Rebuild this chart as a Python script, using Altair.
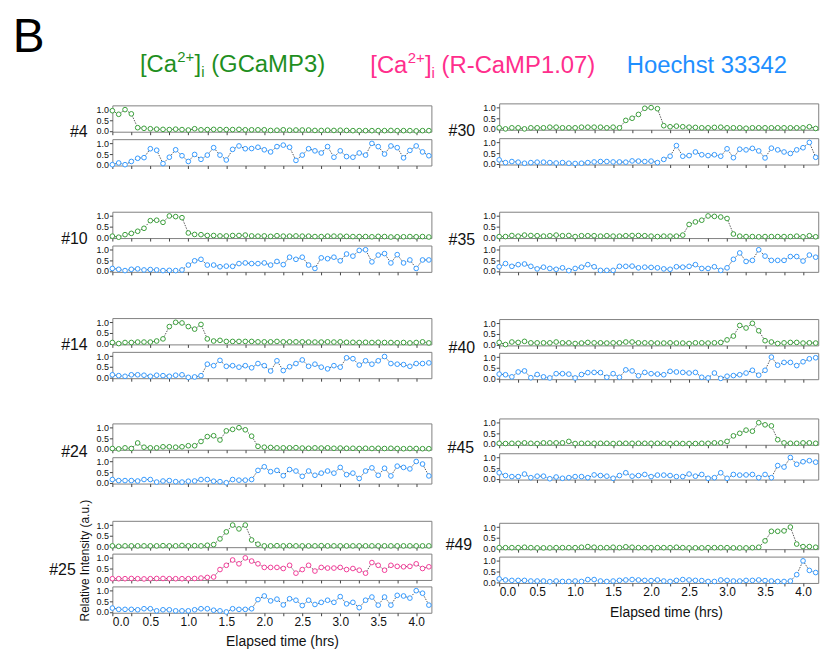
import altair as alt
import pandas as pd

FRAME_MIN = 5  # acquisition interval in minutes

# ---------------- traces (relative intensity, a.u.) ----------------
g4 = [0.95, 0.78, 1.0, 0.8, 0.15, 0.12, 0.1, 0.08, 0.07, 0.06,
      0.08, 0.06, 0.04, 0.1, 0.05, 0.06, 0.07, 0.06, 0.06, 0.06,
      0.07, 0.05, 0.05, 0.05, 0.05, 0.02, 0.03, 0.05, 0.03, 0.04,
      0.04, 0.04, 0.02, 0.02, 0.03, 0.02, 0.03, 0.02, 0.01, 0.01,
      0.01, 0.01, 0.01, 0.01, 0.02, 0.01, 0.01, 0.01, 0.0, 0.01,
      0.01]
b4 = [0.0, 0.08, 0.0, 0.15, 0.3, 0.33, 0.75, 0.68, 0.05, 0.35,
      0.7, 0.42, 0.15, 0.48, 0.25, 0.45, 0.8, 0.45, 0.22, 0.72,
      0.88, 0.75, 0.76, 0.82, 0.7, 0.6, 0.85, 0.92, 0.82, 0.2,
      0.45, 0.75, 0.65, 0.55, 0.85, 0.35, 0.65, 0.38, 0.35, 0.55,
      0.45, 1.0, 0.85, 0.5, 0.88, 0.8, 0.32, 0.67, 0.88, 0.6,
      0.42]
g10 = [0.05, 0.0, 0.12, 0.18, 0.28, 0.42, 0.78, 0.8, 0.7, 1.0,
       0.97, 0.92, 0.2, 0.13, 0.12, 0.08, 0.08, 0.06, 0.06, 0.08,
       0.08, 0.1, 0.06, 0.05, 0.06, 0.04, 0.07, 0.05, 0.05, 0.06,
       0.05, 0.05, 0.03, 0.03, 0.05, 0.05, 0.05, 0.04, 0.03, 0.03,
       0.03, 0.02, 0.04, 0.03, 0.01, 0.02, 0.02, 0.03, 0.02, 0.03,
       0.01]
b10 = [0.12, 0.08, 0.02, 0.08, 0.1, 0.05, 0.07, 0.05, 0.02, 0.03,
       0.02, 0.05, 0.28, 0.48, 0.55, 0.28, 0.28, 0.2, 0.23, 0.22,
       0.35, 0.38, 0.35, 0.35, 0.38, 0.28, 0.45, 0.3, 0.65, 0.55,
       0.65, 0.28, 0.12, 0.62, 0.58, 0.65, 0.48, 0.8, 0.7, 0.97,
       1.0, 0.43, 0.75, 0.82, 0.38, 0.77, 0.38, 0.52, 0.12, 0.52,
       0.52]
g14 = [0.05, 0.0, 0.05, 0.05, 0.07, 0.07, 0.07, 0.12, 0.22, 0.8,
       1.0, 0.97, 0.8, 0.68, 0.9, 0.22, 0.12, 0.15, 0.1, 0.1,
       0.1, 0.1, 0.1, 0.08, 0.08, 0.08, 0.1, 0.08, 0.08, 0.08,
       0.08, 0.07, 0.07, 0.07, 0.08, 0.07, 0.08, 0.06, 0.06, 0.05,
       0.06, 0.05, 0.06, 0.05, 0.05, 0.04, 0.05, 0.03, 0.05, 0.08,
       0.03]
b14 = [0.12, 0.08, 0.05, 0.12, 0.12, 0.1, 0.05, 0.1, 0.08, 0.05,
       0.1, 0.12, 0.0, 0.02, 0.08, 0.62, 0.55, 0.8, 0.52, 0.55,
       0.48, 0.55, 0.45, 0.65, 0.55, 0.3, 0.78, 0.32, 0.5, 0.65,
       0.82, 0.52, 0.62, 0.48, 0.4, 0.55, 0.48, 0.92, 0.88, 0.58,
       0.78, 0.62, 0.78, 0.98, 0.65, 0.62, 0.6, 0.52, 0.65, 0.65,
       0.68]
g24 = [0.02, 0.0, 0.05, 0.02, 0.28, 0.08, 0.05, 0.05, 0.1, 0.1,
       0.08, 0.1, 0.15, 0.15, 0.35, 0.58, 0.62, 0.42, 0.85, 0.92,
       1.0, 0.9, 0.6, 0.12, 0.08, 0.07, 0.05, 0.05, 0.05, 0.06,
       0.04, 0.03, 0.05, 0.04, 0.05, 0.03, 0.04, 0.03, 0.03, 0.02,
       0.03, 0.02, 0.03, 0.02, 0.03, 0.02, 0.01, 0.02, 0.02, 0.01,
       0.01]
b24 = [0.15, 0.1, 0.1, 0.1, 0.08, 0.15, 0.15, 0.03, 0.08, 0.1,
       0.05, 0.03, 0.07, 0.08, 0.15, 0.15, 0.07, 0.05, 0.0, 0.15,
       0.12, 0.12, 0.15, 0.58, 0.75, 0.52, 0.58, 0.33, 0.62, 0.55,
       0.3, 0.55, 0.35, 0.45, 0.55, 0.45, 0.72, 0.38, 0.45, 0.2,
       0.55, 0.7, 0.35, 0.68, 0.32, 0.78, 0.72, 0.65, 1.0, 0.88,
       0.32]
g25 = [0.02, 0.0, 0.02, 0.02, 0.02, 0.02, 0.02, 0.02, 0.03, 0.02,
       0.02, 0.04, 0.02, 0.03, 0.02, 0.05, 0.08, 0.35, 0.68, 1.0,
       0.82, 1.0, 0.3, 0.1, 0.02, 0.02, 0.03, 0.02, 0.03, 0.02,
       0.02, 0.02, 0.02, 0.03, 0.02, 0.02, 0.02, 0.02, 0.02, 0.02,
       0.02, 0.02, 0.02, 0.02, 0.02, 0.02, 0.02, 0.02, 0.02, 0.02,
       0.02]
r25 = [0.02, 0.02, 0.02, 0.03, 0.02, 0.01, 0.02, 0.03, 0.03, 0.02,
       0.02, 0.02, 0.02, 0.03, 0.05, 0.08, 0.1, 0.45, 0.65, 0.9,
       0.72, 1.0, 0.85, 0.72, 0.55, 0.55, 0.55, 0.5, 0.65, 0.28,
       0.45, 0.65, 0.38, 0.55, 0.52, 0.52, 0.55, 0.45, 0.5, 0.42,
       0.28, 0.78, 0.65, 0.42, 0.65, 0.6, 0.58, 0.6, 0.72, 0.5,
       0.58]
b25 = [0.18, 0.12, 0.12, 0.12, 0.1, 0.15, 0.15, 0.05, 0.1, 0.1,
       0.05, 0.05, 0.05, 0.1, 0.15, 0.15, 0.08, 0.05, 0.0, 0.15,
       0.12, 0.12, 0.15, 0.58, 0.75, 0.52, 0.6, 0.33, 0.62, 0.55,
       0.3, 0.55, 0.35, 0.45, 0.55, 0.45, 0.72, 0.38, 0.45, 0.2,
       0.55, 0.7, 0.32, 0.7, 0.32, 0.78, 0.75, 0.65, 1.0, 0.88,
       0.32]
g30 = [0.05, 0.0, 0.05, 0.05, 0.0, 0.05, 0.05, 0.05, 0.08, 0.08,
       0.05, 0.05, 0.05, 0.08, 0.08, 0.08, 0.08, 0.05, 0.08, 0.05,
       0.4, 0.5, 0.68, 0.97, 1.0, 0.95, 0.15, 0.1, 0.13, 0.1,
       0.08, 0.07, 0.05, 0.05, 0.07, 0.08, 0.05, 0.05, 0.05, 0.03,
       0.05, 0.05, 0.05, 0.05, 0.05, 0.05, 0.05, 0.05, 0.05, 0.1,
       0.02]
b30 = [0.18, 0.05, 0.1, 0.07, 0.02, 0.05, 0.07, 0.07, 0.05, 0.03,
       0.05, 0.02, 0.01, 0.02, 0.05, 0.08, 0.1, 0.1, 0.08, 0.08,
       0.07, 0.13, 0.12, 0.1, 0.12, 0.05, 0.2, 0.35, 0.85, 0.35,
       0.38, 0.55, 0.42, 0.38, 0.42, 0.35, 0.7, 0.28, 0.68, 0.65,
       0.72, 0.6, 0.27, 0.73, 0.65, 0.55, 0.48, 0.65, 0.75, 1.0,
       0.3]
g35 = [0.03, 0.03, 0.08, 0.05, 0.1, 0.08, 0.07, 0.05, 0.07, 0.1,
       0.07, 0.08, 0.03, 0.07, 0.07, 0.07, 0.05, 0.07, 0.05, 0.05,
       0.07, 0.08, 0.08, 0.07, 0.05, 0.03, 0.05, 0.05, 0.05, 0.1,
       0.6, 0.72, 0.8, 1.0, 0.98, 0.95, 0.88, 0.15, 0.05, 0.03,
       0.03, 0.02, 0.03, 0.03, 0.03, 0.03, 0.03, 0.05, 0.02, 0.07,
       0.02]
b35 = [0.2, 0.35, 0.22, 0.3, 0.33, 0.22, 0.1, 0.18, 0.12, 0.08,
       0.15, 0.02, 0.12, 0.18, 0.3, 0.2, 0.03, 0.03, 0.03, 0.22,
       0.22, 0.23, 0.15, 0.18, 0.17, 0.15, 0.1, 0.08, 0.2, 0.18,
       0.22, 0.3, 0.12, 0.12, 0.2, 0.03, 0.15, 0.55, 0.85, 0.45,
       0.5, 1.0, 0.7, 0.5, 0.5, 0.5, 0.68, 0.68, 0.47, 0.75,
       0.65]
g40 = [0.1, 0.0, 0.12, 0.1, 0.15, 0.08, 0.08, 0.08, 0.08, 0.12,
       0.08, 0.08, 0.05, 0.07, 0.1, 0.08, 0.08, 0.07, 0.08, 0.08,
       0.12, 0.12, 0.08, 0.08, 0.08, 0.07, 0.07, 0.08, 0.07, 0.07,
       0.05, 0.08, 0.08, 0.07, 0.08, 0.1, 0.22, 0.4, 0.9, 0.78,
       1.0, 0.65, 0.18, 0.12, 0.05, 0.08, 0.1, 0.1, 0.07, 0.08,
       0.07]
b40 = [0.2, 0.17, 0.07, 0.3, 0.35, 0.03, 0.18, 0.07, 0.02, 0.22,
       0.22, 0.2, 0.02, 0.18, 0.27, 0.28, 0.27, 0.05, 0.22, 0.05,
       0.4, 0.35, 0.12, 0.28, 0.22, 0.2, 0.17, 0.33, 0.3, 0.28,
       0.25, 0.28, 0.05, 0.02, 0.25, 0.0, 0.1, 0.13, 0.17, 0.25,
       0.38, 0.15, 0.38, 1.0, 0.62, 0.75, 0.75, 0.6, 0.78, 0.92,
       0.97]
g45 = [0.03, 0.02, 0.03, 0.03, 0.05, 0.03, 0.02, 0.05, 0.05, 0.05,
       0.05, 0.12, 0.02, 0.03, 0.03, 0.03, 0.03, 0.03, 0.02, 0.03,
       0.03, 0.03, 0.03, 0.03, 0.03, 0.03, 0.03, 0.02, 0.03, 0.02,
       0.02, 0.02, 0.03, 0.03, 0.05, 0.05, 0.12, 0.38, 0.5, 0.65,
       0.6, 1.0, 0.9, 0.85, 0.2, 0.05, 0.03, 0.03, 0.05, 0.05,
       0.03]
b45 = [0.28, 0.15, 0.1, 0.1, 0.22, 0.05, 0.12, 0.12, 0.0, 0.08,
       0.02, 0.05, 0.1, 0.1, 0.05, 0.18, 0.15, 0.12, 0.02, 0.15,
       0.28, 0.12, 0.15, 0.2, 0.1, 0.17, 0.17, 0.15, 0.1, 0.1,
       0.22, 0.12, 0.2, 0.02, 0.05, 0.28, 0.02, 0.2, 0.17, 0.18,
       0.2, 0.05, 0.2, 0.05, 0.62, 0.55, 1.0, 0.68, 0.8, 0.85,
       0.78]
g49 = [0.03, 0.03, 0.03, 0.03, 0.05, 0.03, 0.02, 0.02, 0.02, 0.03,
       0.03, 0.03, 0.03, 0.05, 0.08, 0.05, 0.03, 0.03, 0.05, 0.03,
       0.07, 0.05, 0.03, 0.03, 0.03, 0.03, 0.03, 0.03, 0.05, 0.03,
       0.02, 0.02, 0.02, 0.03, 0.03, 0.03, 0.03, 0.02, 0.02, 0.02,
       0.03, 0.05, 0.35, 0.8, 0.8, 0.82, 1.0, 0.2, 0.08, 0.08,
       0.05]
b49 = [0.15, 0.1, 0.08, 0.08, 0.08, 0.05, 0.05, 0.05, 0.02, 0.05,
       0.03, 0.03, 0.05, 0.03, 0.12, 0.12, 0.05, 0.03, 0.05, 0.08,
       0.1, 0.12, 0.1, 0.08, 0.07, 0.1, 0.05, 0.03, 0.08, 0.12,
       0.1, 0.08, 0.07, 0.03, 0.03, 0.1, 0.08, 0.05, 0.05, 0.08,
       0.08, 0.1, 0.07, 0.05, 0.03, 0.03, 0.05, 0.35, 1.0, 0.55,
       0.45]

# ---------------- styling / layout ----------------
GREEN = "#3a9e3a"
PINK = "#f23c98"
BLUE = "#3399ff"
FONT = "Liberation Sans"
FRAME = "#808080"
PANEL_W = 321
PANEL_H = 26.5
CELL_EXTRA = 0.5               # extra layout space each flush cell takes (frame stroke)
LEFT_X = 112.3
RIGHT_X = 497.7
TOP_L = 103.3
TOP_R = 101.0
COL_ORIGIN_Y = TOP_R           # page y of both columns' layout origin
X_TICKS = [k * 0.25 for k in range(17)]
one = pd.DataFrame({"s": [0]})


def x_axis(bottom, title_x=0.0, title_y=0.0):
    if bottom:
        return alt.Axis(values=X_TICKS, domain=False, grid=False, tickSize=3,
                        tickColor="#444", labelOverlap=False,
                        labelExpr="datum.value % 0.5 === 0 ? format(datum.value, '.1f') : ''",
                        labelFontSize=12, labelPadding=1, labelColor="#111",
                        title="Elapsed time (hrs)", titleFontSize=14,
                        titleFontWeight="normal", titleColor="#111",
                        titleX=title_x, titleY=title_y, titleAlign="center",
                        titleBaseline="alphabetic")
    return alt.Axis(values=X_TICKS, domain=False, grid=False, tickSize=3,
                    tickColor="#444", labels=False, title="")


def y_axis(title="", **kw):
    return alt.Axis(values=[0, 0.5, 1.0], format=".1f", domain=False, grid=False,
                    tickSize=3, tickColor="#444", labelFontSize=9, labelPadding=1,
                    labelOverlap=False, labelColor="#111", title=title, **kw)


def name_title(label, tx, ty):
    return y_axis(label, titleAngle=0, titleAlign="right", titleBaseline="alphabetic",
                  titleX=tx, titleY=ty, titleFontSize=16, titleFontWeight="normal",
                  titleColor="#111")


def txt(s, x, y, size, color):
    return alt.Chart(one).mark_text(text=s, align="left", baseline="alphabetic",
                                    fontSize=size, color=color, font=FONT).encode(
        x=alt.value(x), y=alt.value(y))


def ca_label(x0, y0, rest, color):
    return [
        txt("[Ca", x0, y0, 24, color),
        txt("2+", x0 + 37.6, y0 - 10, 15, color),
        txt("]", x0 + 55.0, y0, 24, color),
        txt("i", x0 + 61.7, y0 + 5, 15, color),
        txt(rest, x0 + 71.7, y0, 24, color),
    ]


def panel(vals, color, xa, ya, extra=()):
    df = pd.DataFrame({"t": [i * FRAME_MIN / 60 for i in range(len(vals))], "v": vals})
    base = alt.Chart(df).encode(
        x=alt.X("t:Q", scale=alt.Scale(domain=[0, 4.2], nice=False, zero=False), axis=xa),
        y=alt.Y("v:Q", scale=alt.Scale(domain=[-0.04, 1.2], nice=False, zero=False), axis=ya),
    )
    line = base.mark_line(color="#333333", strokeWidth=0.8, strokeDash=[1.5, 1.2])
    pts = base.mark_point(shape="circle", filled=True, fill="white", stroke=color,
                          strokeWidth=1, size=22, opacity=1)
    return alt.layer(line, pts, *extra).properties(width=PANEL_W, height=PANEL_H)


def spacer(h):
    return alt.Chart(one).mark_point(opacity=0, size=1).encode(
        x=alt.value(1), y=alt.value(1)
    ).properties(width=PANEL_W, height=h, view=alt.ViewBackground(strokeOpacity=0))


def column(items):
    cells = []
    cur = COL_ORIGIN_Y
    for it in items:
        s = it["top"] - cur - CELL_EXTRA
        if s >= 0.3:
            cells.append(spacer(s))
            cur += s + CELL_EXTRA
        cells.append(panel(it["vals"], it["color"], it["xa"], it["ya"], it.get("extra", ())))
        cur += PANEL_H + CELL_EXTRA
    return alt.vconcat(*cells, spacing=0, bounds="flush")


# header texts, placed relative to the first panel of each column
B_TOP = 12.0  # page y of the top of the "B" text box (font 48 -> baseline 38 px lower)
left_header = [txt("B", 12 - LEFT_X, B_TOP + 38 - TOP_L, 48, "black")]
left_header += ca_label(140 - LEFT_X, 70 - TOP_L, "(GCaMP3)", "#1f8f1f")
right_header = ca_label(368 - RIGHT_X, 70 - TOP_R, "(R-CaMP1.07)", "#ff2e8c")
right_header.append(txt("Hoechst 33342", 626 - RIGHT_X, 70 - TOP_R, 24, "#1e8fff"))
# invisible marker so both columns reach the same top extent
right_header.append(alt.Chart(one).mark_rule(opacity=0, strokeWidth=1).encode(
    x=alt.value(10), y=alt.value(B_TOP + 0.5 - TOP_R), y2=alt.value(B_TOP + 10 - TOP_R)))

plain = y_axis()
left_items = [
    dict(vals=g4, color=GREEN, top=TOP_L, xa=x_axis(False), ya=name_title("#4", 87 - LEFT_X, 31.7),
         extra=left_header),
    dict(vals=b4, color=BLUE, top=137.3, xa=x_axis(False), ya=plain),
    dict(vals=g10, color=GREEN, top=210.7, xa=x_axis(False), ya=name_title("#10", 87 - LEFT_X, 32.3)),
    dict(vals=b10, color=BLUE, top=245.0, xa=x_axis(False), ya=plain),
    dict(vals=g14, color=GREEN, top=318.3, xa=x_axis(False), ya=name_title("#14", 87 - LEFT_X, 31.7)),
    dict(vals=b14, color=BLUE, top=352.7, xa=x_axis(False), ya=plain),
    dict(vals=g24, color=GREEN, top=425.0, xa=x_axis(False), ya=name_title("#24", 87 - LEFT_X, 33.0)),
    dict(vals=b24, color=BLUE, top=459.3, xa=x_axis(False), ya=plain),
    dict(vals=g25, color=GREEN, top=523.3, xa=x_axis(False), ya=plain),
    dict(vals=r25, color=PINK, top=556.7, xa=x_axis(False), ya=name_title("#25", 75 - LEFT_X, 21.3)),
    dict(vals=b25, color=BLUE, top=590.0, xa=x_axis(True, 283 - LEFT_X, 32.5),
         ya=y_axis("Relative Intensity (a.u.)", titleAngle=270, titleAlign="center",
                   titleBaseline="alphabetic", titleX=88 - LEFT_X, titleY=563.5 - 590.0,
                   titleFontSize=12, titleFontWeight="normal", titleColor="#111")),
]
right_items = [
    dict(vals=g30, color=GREEN, top=TOP_R, xa=x_axis(False), ya=name_title("#30", 473 - RIGHT_X, 32.0),
         extra=right_header),
    dict(vals=b30, color=BLUE, top=135.7, xa=x_axis(False), ya=plain),
    dict(vals=g35, color=GREEN, top=210.0, xa=x_axis(False), ya=name_title("#35", 473 - RIGHT_X, 33.0)),
    dict(vals=b35, color=BLUE, top=244.3, xa=x_axis(False), ya=plain),
    dict(vals=g40, color=GREEN, top=318.3, xa=x_axis(False), ya=name_title("#40", 473 - RIGHT_X, 33.7)),
    dict(vals=b40, color=BLUE, top=352.7, xa=x_axis(False), ya=plain),
    dict(vals=g45, color=GREEN, top=418.3, xa=x_axis(False), ya=name_title("#45", 472 - RIGHT_X, 34.7)),
    dict(vals=b45, color=BLUE, top=453.3, xa=x_axis(False), ya=plain),
    dict(vals=g49, color=GREEN, top=523.3, xa=x_axis(False), ya=name_title("#49", 470 - RIGHT_X, 26.7)),
    dict(vals=b49, color=BLUE, top=557.7, xa=x_axis(True, 665.5 - RIGHT_X, 33.8), ya=plain),
]

# full-bounds spacing: right origin - left origin = RIGHT_X - LEFT_X
LEFT_EXTENT_R = PANEL_W + 0.5           # right edge of left column (frame stroke)
RIGHT_EXTENT_L = 368 - RIGHT_X          # left edge of right column (header text)
COL_SPACING = (RIGHT_X - LEFT_X) - LEFT_EXTENT_R + RIGHT_EXTENT_L

chart = alt.hconcat(column(left_items), column(right_items),
                    spacing=COL_SPACING, bounds="full").properties(
    padding={"left": 4, "top": 4, "right": 2, "bottom": 0}
).configure(font=FONT).configure_view(stroke=FRAME, strokeWidth=1).configure_axis(
    labelFont=FONT, titleFont=FONT)

chart.save("out.html", embed_options={"renderer": "svg", "actions": False})
